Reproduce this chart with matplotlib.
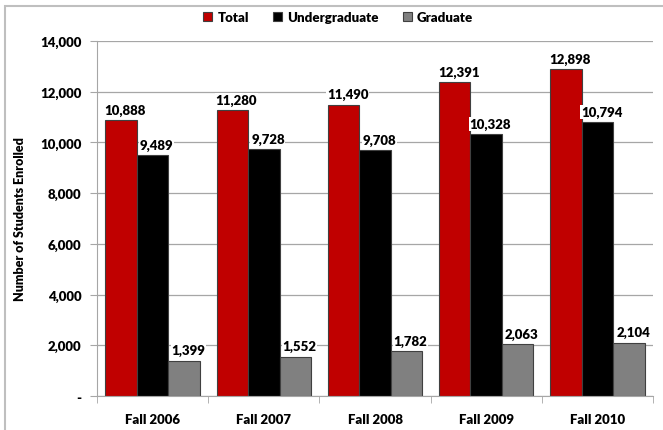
import matplotlib.pyplot as plt
import matplotlib.patches as mpatches
import numpy as np

plt.rcParams['font.family'] = ['Lato', 'DejaVu Sans']
plt.rcParams['font.weight'] = 'bold'

terms = ['Fall 2006', 'Fall 2007', 'Fall 2008', 'Fall 2009', 'Fall 2010']
total = [10888, 11280, 11490, 12391, 12898]
undergrad = [9489, 9728, 9708, 10328, 10794]
graduate = [1399, 1552, 1782, 2063, 2104]

series = [('Total', total, '#c00000'),
          ('Undergraduate', undergrad, '#000000'),
          ('Graduate', graduate, '#808080')]

fig = plt.figure(figsize=(6.63, 4.31), dpi=100)
ax = fig.add_axes([97 / 663, 1 - 397 / 431, (653 - 97) / 663, (397 - 42) / 431])

# outer chart frame
fig.patches.append(mpatches.Rectangle((5 / 663, -0.1), 1.2, 1 - 7 / 431 + 0.1,
                                      transform=fig.transFigure, fill=False,
                                      edgecolor='#bfbfbf', linewidth=1.5))

x = np.arange(len(terms))
w = 0.283
for i, (name, vals, col) in enumerate(series):
    pos = x + (i - 1) * w
    ax.bar(pos, vals, w, color=col, edgecolor='#404040', linewidth=0.8, label=name, zorder=2)
    for p, v in zip(pos, vals):
        ax.annotate(f'{v:,}', (p, v), xytext=(3, 3), textcoords='offset points',
                    ha='center', va='bottom', fontsize=9.5, fontweight='heavy',
                    bbox=dict(boxstyle='square,pad=0.05', fc='white', ec='none'), zorder=3)

ax.set_xlim(-0.5, 4.5)
ax.set_ylim(0, 14000)
ax.set_yticks(np.arange(0, 14001, 2000))
ax.set_yticklabels(['-'] + [f'{t:,}' for t in range(2000, 14001, 2000)])
ax.yaxis.grid(True, color='#a6a6a6', linewidth=0.9, zorder=0)
ax.set_axisbelow(True)

ax.set_xticks(x)
ax.set_xticklabels(terms, fontweight='heavy')
ax.set_xticks(np.arange(-0.5, 5, 1), minor=True)
ax.tick_params(axis='x', which='major', length=0, pad=12, labelsize=9.5)
ax.tick_params(axis='x', which='minor', length=5, color='#a6a6a6')
ax.tick_params(axis='y', length=5, color='#a6a6a6', labelsize=9.5, pad=6)
for t in ax.get_yticklabels():
    t.set_fontweight('heavy')

for s in ['top', 'right']:
    ax.spines[s].set_visible(False)
ax.spines['left'].set_color('#a6a6a6')
ax.spines['bottom'].set_color('#a6a6a6')

ax.set_ylabel('Number of Students Enrolled', fontsize=9, fontweight='heavy', labelpad=10)

fig.legend(loc='center', bbox_to_anchor=(0.51, 1 - 18 / 431), ncol=3, frameon=False,
           fontsize=9.5, handlelength=0.7, handleheight=0.7, columnspacing=1.8, handletextpad=0.4,
           prop={'weight': 'heavy', 'size': 9.5})

fig.savefig('out.png', dpi=100)
